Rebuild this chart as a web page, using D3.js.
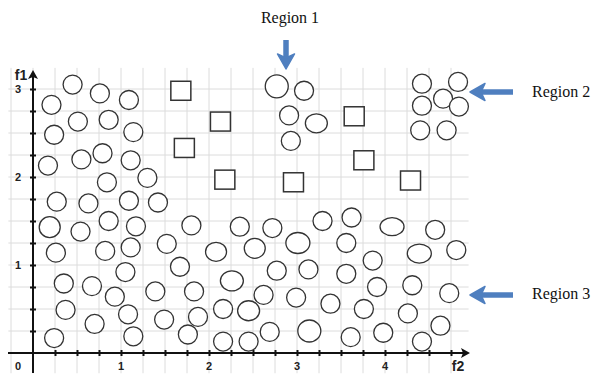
<!DOCTYPE html>
<html lang="en">
<head>
<meta charset="utf-8" />
<title>Regions</title>
<style>
    body { margin: 0; background: #fff; }
    .tick-lbl { font: bold 11px "Liberation Sans", Arial, sans-serif; fill: #222; }
    .region { font: 16px "Liberation Serif", "Times New Roman", serif; fill: #111; }
</style>
</head>
<body>
<div id="graph"></div>
<script src="https://d3js.org/d3.v7.min.js"></script>
<script>
    // circles: f2 (x) and f1 (y) values
    var circF2 = [0.45, 0.76, 1.09, 0.21, 0.51, 0.86, 0.24, 1.14, 0.55, 0.79, 0.17, 1.11, 0.84, 1.30, 0.27, 0.63, 1.09, 1.42,
                  0.19, 0.54, 0.86, 1.17, 1.80, 0.26, 0.82, 1.11, 1.52, 1.67, 1.05, 0.35, 0.67, 0.93, 1.39, 1.83, 0.37, 1.08,
                  1.49, 1.875, 0.24, 0.70, 1.14, 1.76,
                  2.35, 2.72, 3.29, 3.62, 2.08, 2.52, 3.01, 3.56, 2.77, 3.13, 3.56, 3.86, 2.26, 2.62, 2.99, 3.38, 3.76, 2.16,
                  2.45, 2.16, 2.45, 2.69, 3.14, 3.61,
                  4.08, 4.57, 4.39, 4.81, 3.91, 4.31, 4.73, 4.26, 3.98, 4.63, 4.42,
                  2.77, 3.08, 2.91, 3.22, 2.93,
                  4.42, 4.83, 4.66, 4.42, 4.84, 4.40, 4.70];
    var circF1 = [3.05, 2.95, 2.875, 2.82, 2.63, 2.65, 2.48, 2.51, 2.20, 2.27, 2.13, 2.19, 1.94, 1.99, 1.72, 1.70, 1.73, 1.71,
                  1.43, 1.38, 1.50, 1.44, 1.45, 1.14, 1.16, 1.20, 1.24, 0.98, 0.92, 0.79, 0.76, 0.64, 0.70, 0.70, 0.49, 0.44,
                  0.38, 0.41, 0.17, 0.33, 0.19, 0.21,
                  1.435, 1.42, 1.50, 1.54, 1.15, 1.19, 1.25, 1.25, 0.935, 0.95, 0.90, 1.05, 0.82, 0.66, 0.63, 0.56, 0.50, 0.50,
                  0.48, 0.13, 0.13, 0.24, 0.25, 0.18,
                  1.435, 1.40, 1.13, 1.17, 0.75, 0.77, 0.68, 0.45, 0.23, 0.31, 0.13,
                  3.03, 2.98, 2.70, 2.61, 2.41,
                  3.06, 3.08, 2.89, 2.81, 2.80, 2.53, 2.53];
    // squares
    var sqF2 = [1.68, 2.13, 1.72, 2.18, 2.96, 3.65, 3.76, 4.29];
    var sqF1 = [2.98, 2.63, 2.33, 1.97, 1.94, 2.69, 2.19, 1.96];

    var xLabels = [1, 2, 3, 4];
    var yLabels = [1, 2, 3];
    var regions = ["Region 1", "Region 2", "Region 3"];

    // a few marks are drawn larger / stretched
    var oddSize = { 18: [10.5, 10.5], 46: [10.5, 9.5], 47: [10.5, 10], 48: [12, 10.5], 54: [11.5, 10],
                    60: [11, 10], 64: [11.5, 11], 66: [12, 9], 68: [12, 9.5], 77: [11.5, 11.5], 80: [11, 9.5] };

    var W = 595, H = 376;
    var x = d3.scaleLinear().domain([0, 5]).range([33, 473]);
    var y = d3.scaleLinear().domain([0, 3]).range([353, 89]);

    var svg = d3.select("#graph").append("svg")
        .attr("width", W).attr("height", H);

    // grid
    var gx = d3.range(-0.25, 4.76, 0.25), gy = d3.range(0.25, 3.01, 0.25);
    svg.append("g").selectAll("line").data(gx).enter().append("line")
        .attr("x1", function (d) { return x(d); }).attr("x2", function (d) { return x(d); })
        .attr("y1", y(-0.23)).attr("y2", y(3.24))
        .attr("stroke", "#dcdcdc").attr("stroke-width", 1);
    svg.append("g").selectAll("line").data(gy).enter().append("line")
        .attr("y1", function (d) { return y(d); }).attr("y2", function (d) { return y(d); })
        .attr("x1", x(-0.28)).attr("x2", x(4.95))
        .attr("stroke", "#dcdcdc").attr("stroke-width", 1);

    // axes
    var ticks = d3.range(0.25, 4.76, 0.25);
    var xAxis = d3.axisBottom(x).tickValues(ticks).tickFormat("").tickSizeOuter(0);
    var yAxis = d3.axisLeft(y).tickValues(d3.range(0.25, 3.01, 0.25)).tickFormat("").tickSizeOuter(0);

    var gxa = svg.append("g").attr("transform", "translate(0," + y(0) + ")").call(xAxis);
    gxa.select(".domain").remove();
    gxa.selectAll("line").attr("y1", -3).attr("y2", 3).attr("stroke", "#111").attr("stroke-width", 2);
    var gya = svg.append("g").attr("transform", "translate(" + x(0) + ",0)").call(yAxis);
    gya.select(".domain").remove();
    gya.selectAll("line").attr("x1", -3).attr("x2", 3).attr("stroke", "#111").attr("stroke-width", 2);

    svg.append("line").attr("x1", 8).attr("x2", x(5) - 6).attr("y1", y(0)).attr("y2", y(0))
        .attr("stroke", "#111").attr("stroke-width", 2);
    svg.append("line").attr("x1", x(0)).attr("x2", x(0)).attr("y1", 373).attr("y2", 76)
        .attr("stroke", "#111").attr("stroke-width", 2);
    svg.append("path").attr("d", "M" + (x(5) - 3) + "," + y(0) + "l-9,-5l2,5l-2,5z").attr("fill", "#111");
    svg.append("path").attr("d", "M" + x(0) + ",70l-5,9l5,-2l5,2z").attr("fill", "#111");

    // tick labels
    svg.selectAll(".xl").data(xLabels).enter().append("text").attr("class", "tick-lbl")
        .attr("x", function (d) { return x(d); }).attr("y", 370).attr("text-anchor", "middle")
        .text(function (d) { return d; });
    svg.selectAll(".yl").data(yLabels).enter().append("text").attr("class", "tick-lbl")
        .attr("x", 18).attr("y", function (d) { return y(d) + 4; }).attr("text-anchor", "middle")
        .text(function (d) { return d; });
    svg.append("text").attr("class", "tick-lbl").attr("x", 18).attr("y", 370).attr("text-anchor", "middle").text("0");
    svg.append("text").attr("class", "tick-lbl").attr("x", 21).attr("y", 80).attr("text-anchor", "middle")
        .style("font-size", "14px").text("f1");
    svg.append("text").attr("class", "tick-lbl").attr("x", 458).attr("y", 371).attr("text-anchor", "middle")
        .style("font-size", "14px").text("f2");

    // circles
    svg.append("g").selectAll("ellipse").data(circF2).enter().append("ellipse")
        .attr("cx", function (d) { return x(d); })
        .attr("cy", function (d, i) { return y(circF1[i]); })
        .attr("rx", function (d, i) { return oddSize[i] ? oddSize[i][0] : 9.5; })
        .attr("ry", function (d, i) { return oddSize[i] ? oddSize[i][1] : 9.5; })
        .attr("fill", "#fff").attr("stroke", "#333").attr("stroke-width", 1.3);

    // squares
    svg.append("g").selectAll("rect").data(sqF2).enter().append("rect")
        .attr("x", function (d) { return x(d) - 10; })
        .attr("y", function (d, i) { return y(sqF1[i]) - 9.5; })
        .attr("width", 20).attr("height", 19)
        .attr("fill", "#fff").attr("stroke", "#333").attr("stroke-width", 1.5);

    // annotation arrows
    var blue = "#4f7fbf";
    function arrow(x1, y1, x2, y2) {
        var a = Math.atan2(y2 - y1, x2 - x1), len = Math.hypot(x2 - x1, y2 - y1);
        var g = svg.append("g").attr("transform", "translate(" + x1 + "," + y1 + ") rotate(" + (a * 180 / Math.PI) + ")");
        g.append("line").attr("x1", 0).attr("y1", 0).attr("x2", len - 10).attr("y2", 0)
            .attr("stroke", blue).attr("stroke-width", 5.5);
        g.append("path").attr("d", "M" + len + ",0L" + (len - 15) + ",-8.5L" + (len - 11) + ",0L" + (len - 15) + ",8.5Z")
            .attr("fill", blue).attr("stroke", blue).attr("stroke-width", 1.5).attr("stroke-linejoin", "round");
    }
    arrow(286, 40, 286, 69);
    arrow(513, 92, 470, 92);
    arrow(513, 295, 470, 295);

    svg.append("text").attr("class", "region").attr("x", 290).attr("y", 23).attr("text-anchor", "middle").text(regions[0]);
    svg.append("text").attr("class", "region").attr("x", 532).attr("y", 97).text(regions[1]);
    svg.append("text").attr("class", "region").attr("x", 532).attr("y", 299).text(regions[2]);
</script>
</body>
</html>
